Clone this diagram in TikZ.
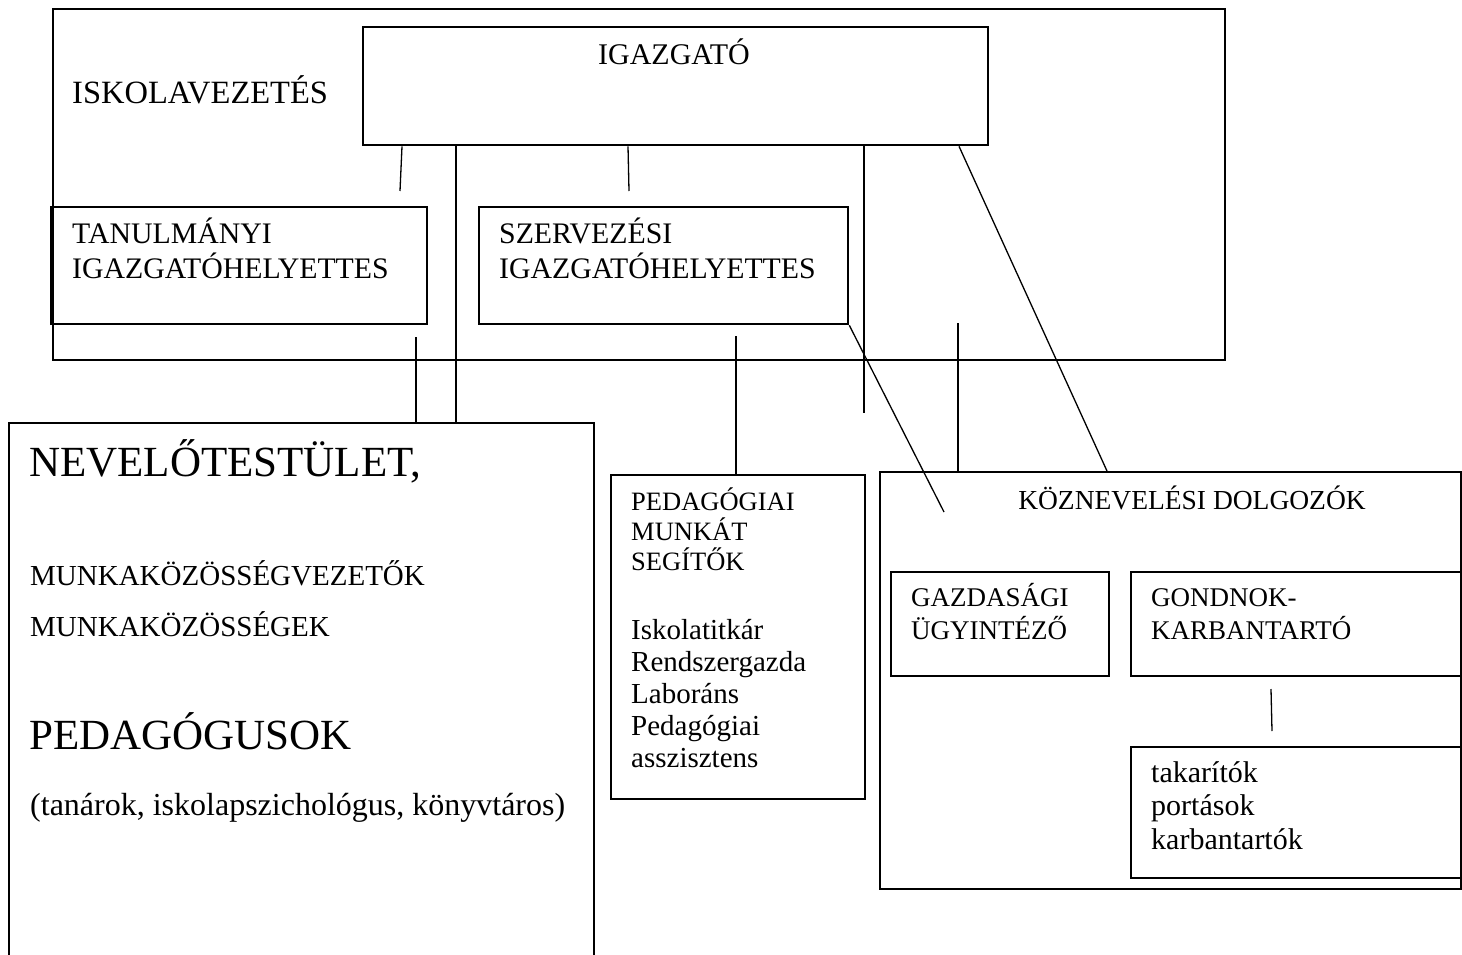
\documentclass[tikz,border=0pt]{standalone}
\usepackage{fontspec}
\setmainfont{Liberation Serif}
\newcommand\fsz[1]{\fontsize{#1}{#1}\selectfont}
\begin{document}
\begin{tikzpicture}[x=1pt,y=-1pt,
  box/.style={draw, line width=1.7pt, inner sep=0pt, anchor=north west},
  thickbox/.style={box, line width=2.3pt},
  outerbox/.style={box, line width=1.6pt},
  conn/.style={draw, line width=1.3pt},
  lbl/.style={inner sep=0pt, anchor=base west}]
\useasboundingbox (0,0) rectangle (1462,955);
\fill[white] (0,0) rectangle (1462,955);
\clip (0,0) rectangle (1462,955);

% boxes
\node[outerbox, minimum width=1172pt, minimum height=351pt] (outer) at (52,8) {};
\node[thickbox, minimum width=625pt, minimum height=118pt] (igaz) at (362,26) {};
\node[thickbox, minimum width=376pt, minimum height=117pt] (tan) at (50,206) {};
\node[thickbox, minimum width=369pt, minimum height=117pt] (szer) at (478,206) {};
\node[thickbox, minimum width=585pt, minimum height=600pt] (nev) at (8,422) {};
\node[box, minimum width=254pt, minimum height=324pt] (ped) at (610,474) {};
\node[box, minimum width=581pt, minimum height=417pt] (koz) at (879,471) {};
\node[box, minimum width=218pt, minimum height=104pt] (gaz) at (890,571) {};
\node[box, minimum width=330pt, minimum height=104pt] (gond) at (1130,571) {};
\node[box, minimum width=330pt, minimum height=131pt] (tak) at (1130,746) {};

% labels
\node[lbl, font=\fsz{32.5}] (lisk) at (72,104) {ISKOLAVEZETÉS};
\node[inner sep=0pt, anchor=base, font=\fsz{30}] (ligaz) at (674,65) {IGAZGATÓ};
\node[lbl, font=\fsz{29.8}] (ltan1) at (72,243) {TANULMÁNYI};
\node[lbl, font=\fsz{29.8}] (ltan2) at (72,278) {IGAZGATÓHELYETTES};
\node[lbl, font=\fsz{29.8}] (lszer1) at (499,243) {SZERVEZÉSI};
\node[lbl, font=\fsz{29.8}] (lszer2) at (499,278) {IGAZGATÓHELYETTES};

\node[lbl, font=\fsz{43}] (lnev1) at (29,476) {NEVELŐTESTÜLET,};
\node[lbl, font=\fsz{29}] (lnev2) at (30,585) {MUNKAKÖZÖSSÉGVEZETŐK};
\node[lbl, font=\fsz{29}] (lnev3) at (30,636) {MUNKAKÖZÖSSÉGEK};
\node[lbl, font=\fsz{43}] (lnev4) at (29,749) {PEDAGÓGUSOK};
\node[lbl, font=\fsz{32}] (lnev5) at (30,815) {(tanárok, iskolapszichológus, könyvtáros)};

\node[lbl, font=\fsz{26.5}] (lped1) at (631,510) {PEDAGÓGIAI};
\node[lbl, font=\fsz{26.5}] (lped2) at (631,540) {MUNKÁT};
\node[lbl, font=\fsz{26.5}] (lped3) at (631,570) {SEGÍTŐK};
\node[lbl, font=\fsz{29}] (lped4) at (631,639) {Iskolatitkár};
\node[lbl, font=\fsz{29}] (lped5) at (631,671) {Rendszergazda};
\node[lbl, font=\fsz{29}] (lped6) at (631,703) {Laboráns};
\node[lbl, font=\fsz{29}] (lped7) at (631,735) {Pedagógiai};
\node[lbl, font=\fsz{29}] (lped8) at (631,767) {asszisztens};

\node[inner sep=0pt, anchor=base, font=\fsz{27.5}] (lkoz) at (1192,509) {KÖZNEVELÉSI DOLGOZÓK};
\node[lbl, font=\fsz{27}] (lgaz1) at (911,606) {GAZDASÁGI};
\node[lbl, font=\fsz{27}] (lgaz2) at (911,639) {ÜGYINTÉZŐ};
\node[lbl, font=\fsz{27}] (lgond1) at (1151,606) {GONDNOK-};
\node[lbl, font=\fsz{27}] (lgond2) at (1151,639) {KARBANTARTÓ};
\node[lbl, font=\fsz{30}] (ltak1) at (1151,782) {takarítók};
\node[lbl, font=\fsz{30}] (ltak2) at (1151,815) {portások};
\node[lbl, font=\fsz{30}] (ltak3) at (1151,849) {karbantartók};

% connectors
\coordinate (a1) at (402,0);   \coordinate (a1e) at (400,191);
\coordinate (a2) at (456,0);
\coordinate (a3) at (628,0);   \coordinate (a3e) at (629,191);
\coordinate (a4) at (864,0);   \coordinate (a4e) at (864,413);
\coordinate (a5) at (959,0);   \coordinate (a5e) at (1107,0);
\coordinate (a6) at (416,337);
\coordinate (a7) at (736,336);
\coordinate (a8e) at (944,512);
\coordinate (a9) at (958,323);
\coordinate (a10) at (1271,689); \coordinate (a10e) at (1272,731);

\draw[conn] (igaz.south -| a1) -- (a1e);
\draw[conn] (igaz.south -| a2) -- (nev.north -| a2);
\draw[conn] (igaz.south -| a3) -- (a3e);
\draw[conn] (igaz.south -| a4) -- (a4e);
\draw[conn] (igaz.south -| a5) -- (koz.north -| a5e);
\draw[conn] (a6) -- (nev.north -| a6);
\draw[conn] (a7) -- (ped.north -| a7);
\draw[conn] (szer.south east) -- (a8e);
\draw[conn] (a9) -- (koz.north -| a9);
\draw[conn] (a10) -- (a10e);
\end{tikzpicture}
\end{document}
